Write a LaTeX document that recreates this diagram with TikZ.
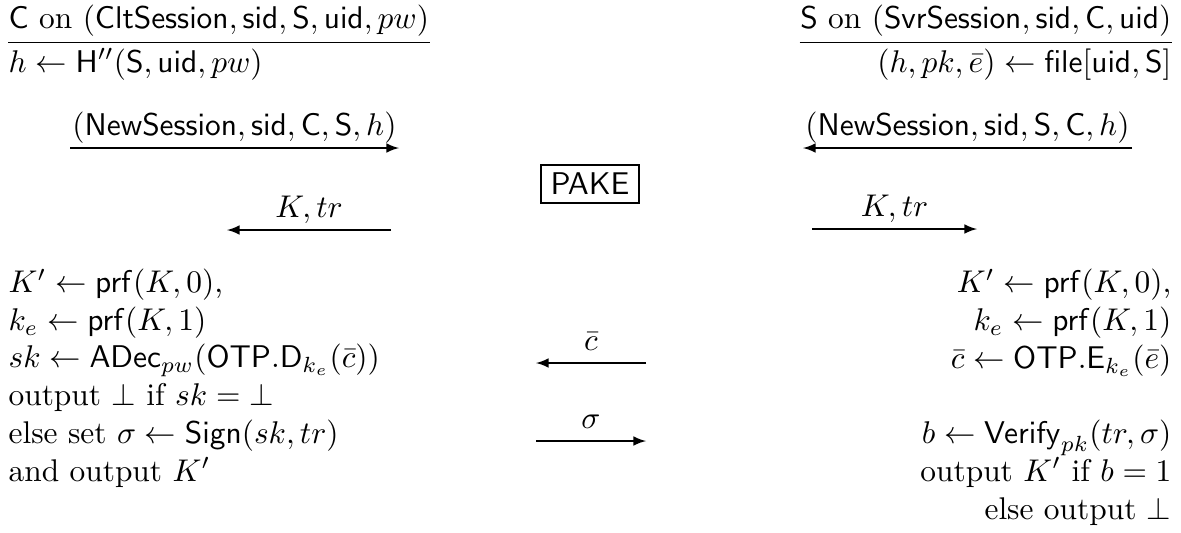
\documentclass[tikz,border=0pt]{standalone}
\usepackage{amsmath,amssymb}
\usetikzlibrary{arrows}

\begin{document}
\begin{tikzpicture}[
    x=0.3185pt, y=-0.3185pt,
    party/.style={inner sep=0pt},
    lcalc/.style={inner sep=0pt, align=left},
    rcalc/.style={inner sep=0pt, align=right},
    msg/.style={-latex},
    lbl/.style={midway, anchor=base, inner sep=0pt, yshift=4pt},
    sub/.style={draw, font=\sffamily, inner xsep=3pt, inner ysep=2.6pt}
]
    \useasboundingbox (0,0) rectangle (1181,532);
    \node [party, anchor=base west] (client) at (8,28) {$\mathsf{C}$ on $(\mathsf{CltSession},\mathsf{sid},\mathsf{S},\mathsf{uid},pw)$};
    \node [party, anchor=base east] (server) at (1172,28) {$\mathsf{S}$ on $(\mathsf{SvrSession},\mathsf{sid},\mathsf{C},\mathsf{uid})$};
    \draw ([yshift=-1.9pt]client.south west) -- ([yshift=-1.9pt]client.south east);
    \draw ([yshift=-1.9pt]server.south west) -- ([yshift=-1.9pt]server.south east);
    \node [party, anchor=base west] (chash) at (8,72) {$h \gets \mathsf{H}''(\mathsf{S},\mathsf{uid},pw)$};
    \node [party, anchor=base east] (sfile) at (1172,72) {$(h,pk,\bar{e}) \gets \mathsf{file}[\mathsf{uid},\mathsf{S}]$};
    \node [sub] (pake) at (590,184) {PAKE};
    \coordinate (cnew) at (70,148);
    \coordinate (cnewend) at (399,148);
    \coordinate (snew) at (1132,148);
    \coordinate (snewend) at (803,148);
    \coordinate (ckey) at (391,230);
    \coordinate (ckeyend) at (227,230);
    \coordinate (skey) at (812,229);
    \coordinate (skeyend) at (977,229);
    \draw [msg] (cnew) -- node[lbl] {$(\mathsf{NewSession},\mathsf{sid},\mathsf{C},\mathsf{S},h)$} (cnewend);
    \draw [msg] (snew) -- node[lbl] {$(\mathsf{NewSession},\mathsf{sid},\mathsf{S},\mathsf{C},h)$} (snewend);
    \draw [msg] (ckey) -- node[lbl] {$K,tr$} (ckeyend);
    \draw [msg] (skey) -- node[lbl] {$K,tr$} (skeyend);
    \node [lcalc, anchor=base west] (cfinish) at (8,481) {$K' \gets \mathsf{prf}(K,0)$,\\
        $k_e \gets \mathsf{prf}(K,1)$\\
        $sk \gets \mathsf{ADec}_{pw}(\mathsf{OTP.D}_{k_e}(\bar{c}))$\\
        output $\bot$ if $sk = \bot$\\
        else set $\sigma \gets \mathsf{Sign}(sk,tr)$\\
        and output $K'$};
    \node [rcalc, anchor=base east] (sfinish) at (1172,519) {$K' \gets \mathsf{prf}(K,0)$,\\
        $k_e \gets \mathsf{prf}(K,1)$\\
        $\bar{c} \gets \mathsf{OTP.E}_{k_e}(\bar{e})$\\[12pt]
        $b \gets \mathsf{Verify}_{pk}(tr,\sigma)$\\
        output $K'$ if $b = 1$\\
        else output $\bot$};
    \coordinate (sct) at (646,363);
    \coordinate (sctend) at (536,363);
    \coordinate (csig) at (536,441);
    \coordinate (csigend) at (646,441);
    \draw [msg] (sct) -- node[lbl] {$\bar{c}$} (sctend);
    \draw [msg] (csig) -- node[lbl] {$\sigma$} (csigend);
\end{tikzpicture}
\end{document}
